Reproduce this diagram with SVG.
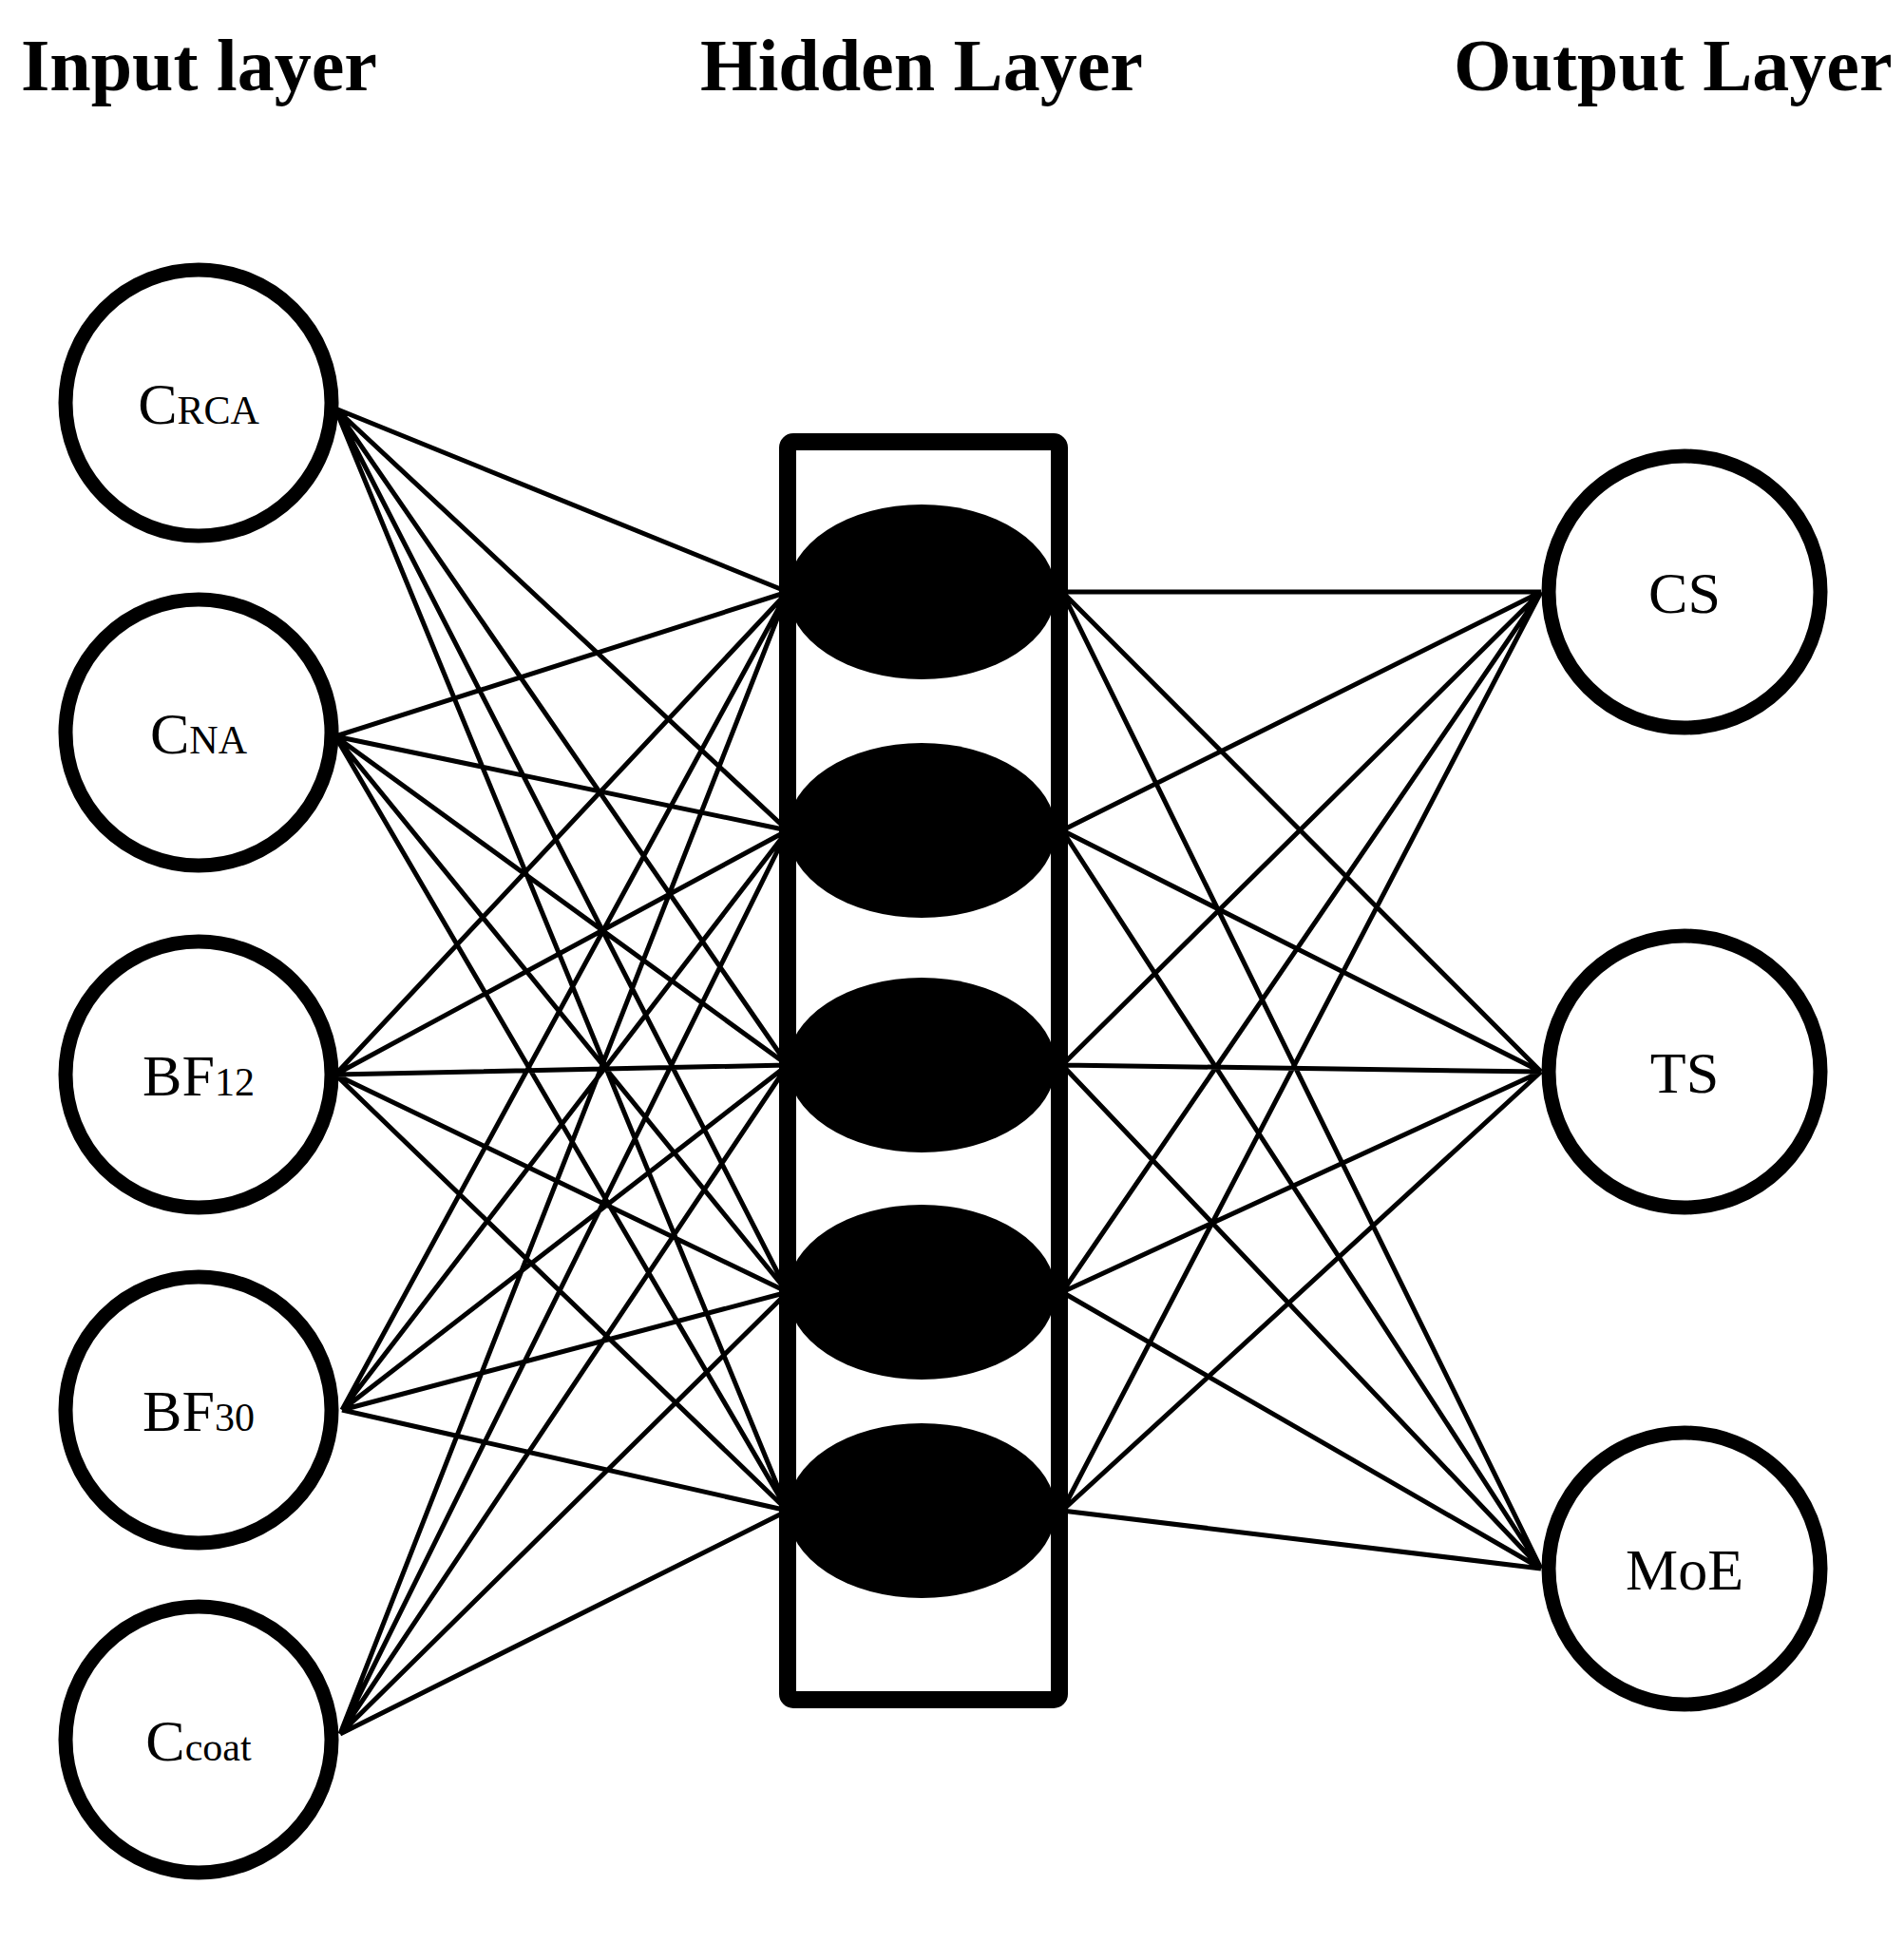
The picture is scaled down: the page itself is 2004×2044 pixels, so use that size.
<svg xmlns="http://www.w3.org/2000/svg" width="2004" height="2044" viewBox="0 0 2004 2044">
<style>
.t{font-family:"Liberation Serif",serif;font-weight:bold;font-size:78px;fill:#000}
.n{fill:#fff;stroke:#000;stroke-width:15}
.l{font-family:"Liberation Serif",serif;font-size:62px;fill:#000;text-anchor:middle}
.s{font-size:42px}
.e{stroke:#000;stroke-width:5;fill:none}
</style>
<rect width="2004" height="2044" fill="#fff"/>
<text class="t" x="22" y="95">Input layer</text>
<text class="t" x="737" y="95">Hidden Layer</text>
<text class="t" x="1530" y="95">Output Layer</text>
<g id="connectors">
<path class="e" d="M353 430L829 623M353 430L829 874M353 430L829 1121M353 430L829 1360M353 430L829 1590
M353 775L829 623M353 775L829 874M353 775L829 1121M353 775L829 1360M353 775L829 1590
M353 1131L829 623M353 1131L829 874M353 1131L829 1121M353 1131L829 1360M353 1131L829 1590
M360 1484L829 623M360 1484L829 874M360 1484L829 1121M360 1484L829 1360M360 1484L829 1590
M358 1825L829 623M358 1825L829 874M358 1825L829 1121M358 1825L829 1360M358 1825L829 1590
M1118 623L1622 623M1118 623L1622 1128M1118 623L1622 1651
M1118 874L1622 623M1118 874L1622 1128M1118 874L1622 1651
M1118 1121L1622 623M1118 1121L1622 1128M1118 1121L1622 1651
M1118 1360L1622 623M1118 1360L1622 1128M1118 1360L1622 1651
M1118 1590L1622 623M1118 1590L1622 1128M1118 1590L1622 1651"/>
</g>
<g id="hidden">
<rect x="829" y="465" width="286" height="1324" rx="6" fill="none" stroke="#000" stroke-width="18"/>
<ellipse cx="970" cy="623" rx="141" ry="92"/>
<ellipse cx="970" cy="874" rx="141" ry="92"/>
<ellipse cx="970" cy="1121" rx="141" ry="92"/>
<ellipse cx="970" cy="1360" rx="141" ry="92"/>
<ellipse cx="970" cy="1590" rx="141" ry="92"/>
</g>
<g id="in1"><circle class="n" cx="209" cy="424" r="140"/><text class="l" x="209" y="446">C<tspan class="s">RCA</tspan></text></g>
<g id="in2"><circle class="n" cx="209" cy="771" r="140"/><text class="l" x="209" y="793">C<tspan class="s">NA</tspan></text></g>
<g id="in3"><circle class="n" cx="209" cy="1131" r="140"/><text class="l" x="209" y="1153">BF<tspan class="s">12</tspan></text></g>
<g id="in4"><circle class="n" cx="209" cy="1484" r="140"/><text class="l" x="209" y="1506">BF<tspan class="s">30</tspan></text></g>
<g id="in5"><circle class="n" cx="209" cy="1831" r="140"/><text class="l" x="209" y="1853">C<tspan class="s">coat</tspan></text></g>
<g id="out1"><circle class="n" cx="1773" cy="623" r="143"/><text class="l" x="1773" y="645">CS</text></g>
<g id="out2"><circle class="n" cx="1773" cy="1128" r="143"/><text class="l" x="1773" y="1150">TS</text></g>
<g id="out3"><circle class="n" cx="1773" cy="1651" r="143"/><text class="l" x="1773" y="1673">MoE</text></g>
</svg>
